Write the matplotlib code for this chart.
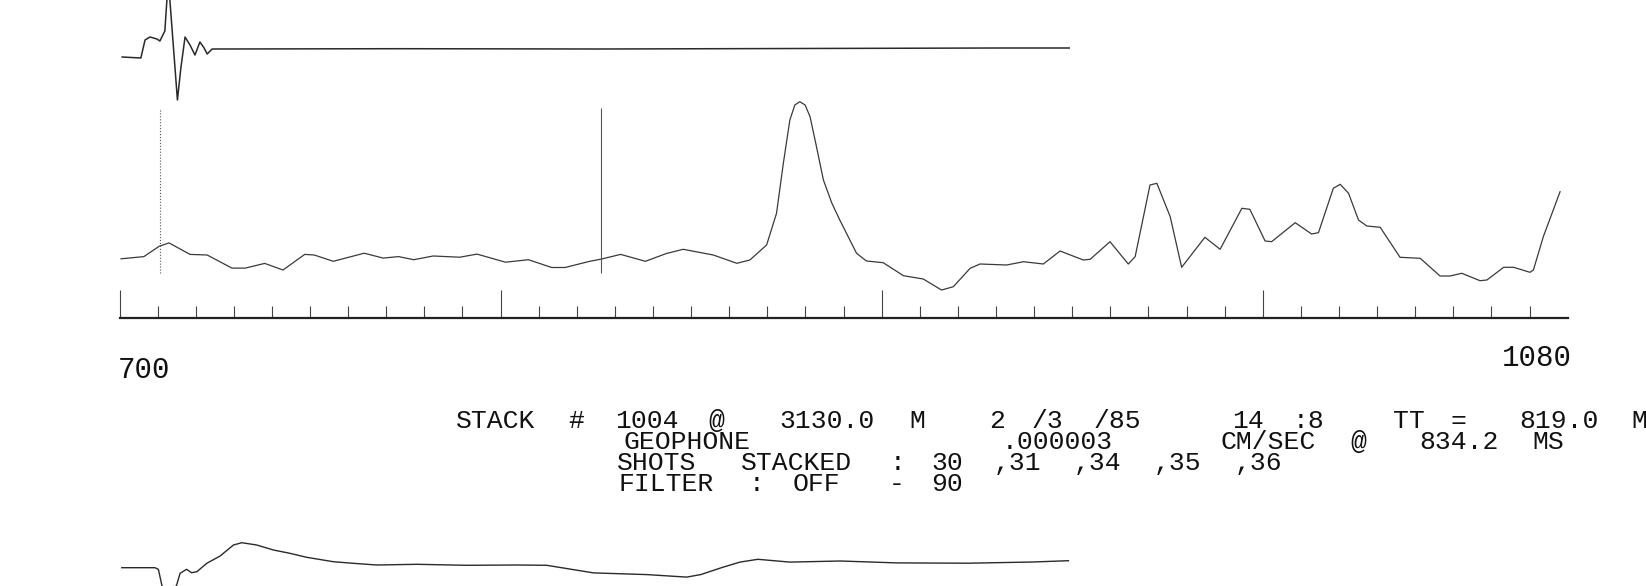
import re
import matplotlib
matplotlib.use("Agg")
import matplotlib.pyplot as plt
from matplotlib.transforms import blended_transform_factory

# ---------------- data (time in ms, amplitude in relative plot units) ----------------
main_t = [700.4, 706.4, 710.4, 713.0, 718.5, 723.0, 729.5, 733.0, 738.1, 742.9,
          748.6, 751.1, 756.1, 764.2, 769.2, 773.2, 777.2, 782.3, 789.3, 793.8,
          801.3, 807.3, 813.4, 816.9, 823.4, 826.4, 831.5, 838.0, 843.5, 847.9,
          855.8, 862.0, 865.4, 869.8, 872.4, 874.2, 875.9, 877.2, 878.5, 879.9,
          881.2, 882.9, 884.7, 886.9, 889.0,
          893.4, 896.0, 900.4, 905.7, 910.9, 915.7, 918.8, 923.2, 925.8, 932.8,
          937.2, 942.4, 946.8, 952.9, 954.7, 959.9, 964.7, 966.5, 970.4, 972.2,
          975.7, 978.7, 984.8, 988.8, 994.5, 996.6, 1000.6, 1002.3, 1008.5, 1012.8,
          1014.6, 1018.5, 1020.3, 1022.5, 1025.1, 1027.3, 1030.8, 1036.0, 1041.3, 1046.5,
          1049.1, 1052.2, 1057.0, 1058.8, 1063.2, 1065.8, 1070.1, 1071.0, 1073.6, 1078.0]
main_a = [1.2, 3.4, 13.7, 17.1, 5.6, 5.0, -8.1, -8.1, -3.4, -10.0,
          5.6, 5.0, -1.3, 6.8, 1.9, 3.4, 0.3, 4.0, 2.8, 5.9,
          -2.2, 0.3, -7.5, -7.5, -1.3, 0.9, 5.6, -1.3, 6.5, 10.7,
          5.0, -3.3, 0.0, 15.0, 46.7, 97.0, 140.0, 155.0, 158.3, 155.0,
          143.3, 113.0, 80.0, 57.0, 40.0,
          6.7, -1.0, -2.7, -15.7, -19.0, -30.0, -26.7, -8.3, -4.0, -5.0,
          -1.7, -4.0, 9.0, 0.0, 0.7, 18.3, -4.0, 3.3, 75.0, 76.7,
          43.3, -7.3, 22.7, 10.7, 51.7, 50.7, 19.0, 18.3, 37.3, 26.0,
          27.3, 71.7, 75.7, 66.7, 40.0, 34.0, 32.7, 2.7, 1.7, -16.0,
          -16.0, -13.3, -20.7, -20.0, -7.3, -7.3, -12.3, -10.0, 23.3, 68.3]

top_t = [700.7, 705.6, 706.7, 708.0, 709.8, 710.6, 711.9, 712.8, 715.2, 716.1,
         717.2, 718.5, 719.8, 721.1, 722.2, 723.0, 724.3, 773.6, 826.1, 878.6,
         931.1, 949.2]
top_a = [-8, -9, 9, 12, 10, 8, 18, 70, -51, -19,
         12, 4, -6, 7, 1, -5, 0, 0.3, 0, 0.5,
         1, 1]

bot_t = [700.6, 709.3, 710.2, 711.1, 713.0, 715.0, 715.9, 717.6, 718.9, 720.3,
         722.9, 726.4, 729.9, 732.1, 736.0, 740.4, 744.7, 749.1, 756.1, 761.3,
         767.5, 778.0, 791.1, 804.2, 812.1, 824.4, 838.4, 848.8, 852.5, 858.1,
         862.8, 867.5, 875.9, 889.1, 904.0, 922.8, 939.7, 949.0]
bot_a = [-2.7, -2.7, -4.3, -20, -35, -20, -8.3, -4.3, -7.7, -6.7,
         1.7, 9, 20, 22.3, 20, 15, 11.7, 7.7, 3.3, 1.7,
         0, 0.7, -0.3, 0, -0.3, -7.9, -9.6, -12.1, -9.6, -2.5,
         2.9, 5.7, 2.9, 4, 2.1, 1.8, 3, 4.3]

marker_t = [710.5, 826.3]          # vertical marker lines (ms)
marker_style = [":", "-"]
major_ticks = [700, 800, 900, 1000]
minor_ticks = [t for t in range(710, 1080, 10) if t % 100 != 0]
x_range = [700, 1080]
end_labels = ["700", "1080"]

info_lines = [
    "STACK # 1004 @  3130.0 M   2 /3 /85    14 :8   TT =  819.0 M",
    "        GEOPHONE           .000003    CM/SEC @  834.2 MS",
    "        SHOTS STACKED : 30 ,31 ,34 ,35 ,36",
    "        FILTER : OFF  - 90",
]

# ---------------- layout ----------------
W, H = 1646, 586
X0, X1 = 119.5, 1567.7
fig = plt.figure(figsize=(W / 100, H / 100), dpi=100)
fig.patch.set_facecolor("white")


def axes_px(top, bottom):
    ax = fig.add_axes([X0 / W, 1 - bottom / H, (X1 - X0) / W, (bottom - top) / H])
    ax.set_xlim(*x_range)
    ax.patch.set_alpha(0)
    return ax


mono = "Liberation Mono"
ink = "#2a2a2a"

# top trace
ax_top = axes_px(0, 110)
ax_top.set_ylim(-61, 49)
ax_top.plot(top_t, top_a, color=ink, lw=1.1)
ax_top.axis("off")

# main trace with time axis
ax = axes_px(90, 318)
ax.set_ylim(-58, 170)
ax.plot(main_t, main_a, color="#3a3a3a", lw=0.9)
for t, ls in zip(marker_t, marker_style):
    ax.vlines(t, -13, 152, colors="#555555", linestyles=ls, lw=0.8)
for s in ["top", "left", "right"]:
    ax.spines[s].set_visible(False)
ax.spines["bottom"].set_color("#222222")
ax.spines["bottom"].set_linewidth(1.6)
ax.set_xticks(major_ticks)
ax.set_xticks(minor_ticks, minor=True)
ax.tick_params(axis="x", which="major", direction="in", length=20, width=0.8,
               color="#444444", labelbottom=False)
ax.tick_params(axis="x", which="minor", direction="in", length=8.6, width=0.8,
               color="#444444")
ax.set_yticks([])

tr = blended_transform_factory(ax.transData, fig.transFigure)
ax.annotate(end_labels[0], xy=(x_range[0], 1 - 378 / H), xycoords=tr,
            xytext=(-1, 0), textcoords="offset points", ha="left",
            va="baseline", family=mono, fontsize=21, color="#111111")
ax.annotate(end_labels[1], xy=(x_range[1], 1 - 366 / H), xycoords=tr,
            xytext=(3, 0), textcoords="offset points", ha="right",
            va="baseline", family=mono, fontsize=21, color="#111111")

# information block: plotter-style fixed pitch, words placed on the character grid
pitch = 20.05
x_start = 446
baselines = [428, 449, 470, 491]
for line, yb in zip(info_lines, baselines):
    for m in re.finditer(r"\S+", line):
        c0, c1 = m.start(), m.end()
        xc = x_start + (c0 + c1) / 2 * pitch
        fig.text(xc / W, 1 - yb / H, m.group(), family=mono, fontsize=19,
                 va="baseline", ha="center", color="#111111")

# bottom trace
ax_bot = axes_px(520, 586)
ax_bot.set_ylim(-21, 45)
ax_bot.plot(bot_t, bot_a, color=ink, lw=1.0)
ax_bot.axis("off")

fig.savefig("out.png", dpi=100, facecolor="white")
